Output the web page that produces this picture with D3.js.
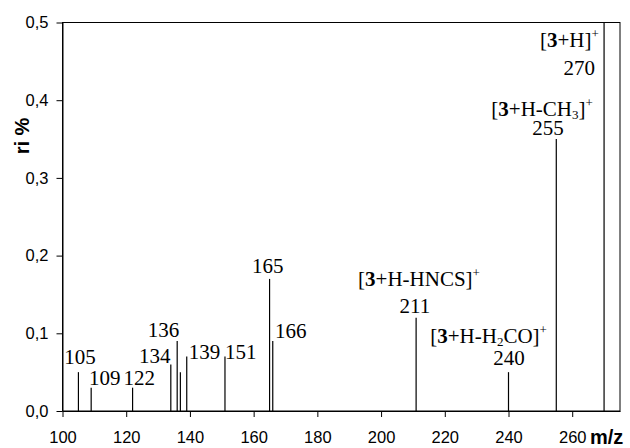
<!DOCTYPE html>
<html>
<head>
<meta charset="utf-8">
<script src="https://cdn.jsdelivr.net/npm/d3@7"></script>
<style>
  body { margin: 0; background: #fff; }
  svg { display: block; }
</style>
</head>
<body>
<div id="container"></div>
<script>
// mass spectrum peaks
const mzValues = [105, 109, 122, 134, 136, 137, 139, 151, 165, 166, 211, 240, 255, 270];
const riValues = [0.05, 0.03, 0.03, 0.06, 0.09, 0.05, 0.07, 0.07, 0.17, 0.09, 0.12, 0.05, 0.35, 0.5];

// which peaks get a number above them
const labelledMz = [105, 109, 122, 134, 136, 139, 151, 165, 166, 211, 240, 255, 270];

// ion formulas: [text, kind]
const ionMz = [270, 255, 211, 240];
const ionText = [
  [["[", ""], ["3", "b"], ["+H]", ""], ["+", "sup"]],
  [["[", ""], ["3", "b"], ["+H-CH", ""], ["3", "sub"], ["]", ""], ["+", "sup"]],
  [["[", ""], ["3", "b"], ["+H-HNCS]", ""], ["+", "sup"]],
  [["[", ""], ["3", "b"], ["+H-H", ""], ["2", "sub"], ["CO]", ""], ["+", "sup"]]
];

const xTicks = [100, 120, 140, 160, 180, 200, 220, 240, 260];
const yTicks = [0, 0.1, 0.2, 0.3, 0.4, 0.5];

var margin = { top: 22.5, right: 10, bottom: 37, left: 62.5 },
  W = 630,
  H = 448,
  width = W - margin.left - margin.right,
  height = H - margin.top - margin.bottom;

const svg = d3
  .select("#container")
  .append("svg")
  .attr("width", W)
  .attr("height", H);

const g = svg
  .append("g")
  .attr("transform", "translate(" + margin.left + "," + margin.top + ")");

const x = d3.scaleLinear().domain([100, 275]).range([0, width]);
const y = d3.scaleLinear().domain([0, 0.5]).range([height, 0]).clamp(true);

const comma = v => d3.format(".1f")(v).replace(".", ",");

// frame
g.append("rect")
  .attr("x", 0)
  .attr("y", 0)
  .attr("width", width)
  .attr("height", height)
  .attr("fill", "none")
  .attr("stroke", "#000")
  .attr("stroke-width", 1);

// axes
const xAxis = g
  .append("g")
  .attr("transform", "translate(0," + height + ")")
  .call(d3.axisBottom(x).tickValues(xTicks).tickSize(6).tickPadding(14).tickSizeOuter(0));

const yAxis = g
  .append("g")
  .call(d3.axisLeft(y).tickValues(yTicks).tickFormat(comma).tickSize(6).tickPadding(8).tickSizeOuter(0));

[xAxis, yAxis].forEach(a => {
  a.select(".domain").attr("stroke", "#000");
  a.selectAll(".tick line").attr("stroke", "#000");
  a.selectAll(".tick text")
    .attr("fill", "#000")
    .attr("font-family", "Liberation Sans, Arial, sans-serif")
    .attr("font-size", "16.5px");
});

// axis titles
svg.append("text")
  .attr("transform", "translate(29,136) rotate(-90)")
  .attr("text-anchor", "middle")
  .attr("font-family", "Liberation Sans, Arial, sans-serif")
  .attr("font-weight", "bold")
  .attr("font-size", "20px")
  .text("ri %");

svg.append("text")
  .attr("x", 590)
  .attr("y", 444)
  .attr("font-family", "Liberation Sans, Arial, sans-serif")
  .attr("font-weight", "bold")
  .attr("font-size", "20px")
  .text("m/z");

// peaks
const peaks = mzValues.map((m, i) => ({ mz: m, ri: riValues[i] }));

g.append("g")
  .selectAll("line")
  .data(peaks)
  .enter()
  .append("line")
  .attr("x1", d => x(d.mz))
  .attr("x2", d => x(d.mz))
  .attr("y1", y(0))
  .attr("y2", d => y(d.ri))
  .attr("stroke", "#000")
  .attr("stroke-width", 1.2);

// label placement relative to peak top
const place = {
  105: { a: "middle", dx: 1.5, dy: -8 },
  109: { a: "middle", dx: 13.6, dy: -2.7 },
  122: { a: "middle", dx: 6.7, dy: -2.7 },
  134: { a: "middle", dx: -16, dy: -1.4 },
  136: { a: "middle", dx: -13.6, dy: -4 },
  139: { a: "middle", dx: 17.8, dy: 2.4 },
  151: { a: "middle", dx: 15.7, dy: 2.4 },
  165: { a: "middle", dx: -1.7, dy: -6.1 },
  166: { a: "middle", dx: 18.1, dy: -3 },
  211: { a: "middle", dx: -1.2, dy: -4.4 },
  240: { a: "middle", dx: 0.4, dy: -7.1 },
  255: { a: "middle", dx: -8.4, dy: -3.9 },
  270: { a: "end", dx: -9, dy: 52.7 }
};
const ionPlace = {
  270: { dx: -5.2, dy: 24.7 },
  255: { dx: 36.6, dy: -23 },
  211: { dx: 63.8, dy: -31.7 },
  240: { dx: 38.4, dy: -29.5 }
};

const serif = "Liberation Serif, Times New Roman, serif";
const fs = 21;
const riOf = m => riValues[mzValues.indexOf(m)];

g.append("g")
  .selectAll("text")
  .data(labelledMz)
  .enter()
  .append("text")
  .attr("x", m => x(m) + place[m].dx)
  .attr("y", m => y(riOf(m)) + place[m].dy)
  .attr("text-anchor", m => place[m].a)
  .attr("font-family", serif)
  .attr("font-size", fs + "px")
  .text(m => m);

// ion formulas
ionMz.forEach((m, i) => {
  const t = g.append("text")
    .attr("x", x(m) + ionPlace[m].dx)
    .attr("y", y(riOf(m)) + ionPlace[m].dy)
    .attr("text-anchor", "end")
    .attr("font-family", serif)
    .attr("font-size", fs + "px");
  let shift = 0;
  ionText[i].forEach(([s, kind]) => {
    const sp = t.append("tspan").text(s);
    let target = 0;
    if (kind === "b") sp.attr("font-weight", "bold");
    if (kind === "sub") { sp.attr("font-size", "13px"); target = 3; }
    if (kind === "sup") { sp.attr("font-size", "13px"); target = -9; }
    if (target !== shift) sp.attr("dy", target - shift);
    shift = target;
  });
});
</script>
</body>
</html>
